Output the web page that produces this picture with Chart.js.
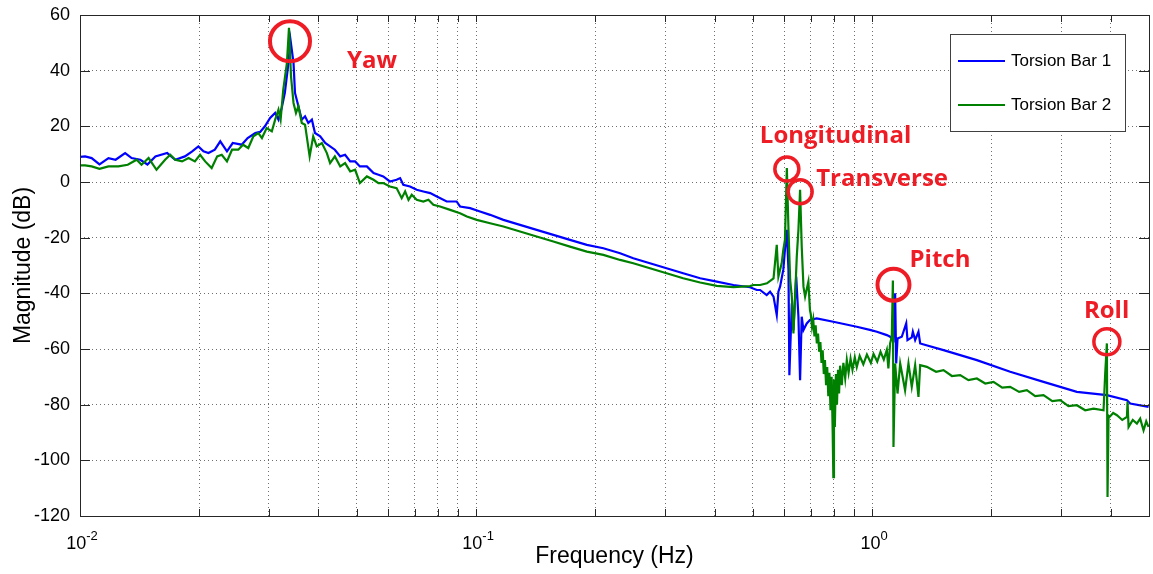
<!DOCTYPE html>
<html>
<head>
<meta charset="utf-8">
<script src="https://cdn.jsdelivr.net/npm/chart.js@4.4.0/dist/chart.umd.min.js"></script>
<style>
    html, body { margin: 0; padding: 0; background: #fff; }
    #wrap { width: 1153px; height: 574px; }
</style>
</head>
<body>
<div id="wrap"><canvas id="magnitudeChart" width="1153" height="574"></canvas></div>
<script>
// Torsion Bar 1 (blue) - frequency (Hz) and magnitude (dB)
const freqTB1 = [
    0.0100, 0.0103, 0.0107, 0.0112, 0.0118, 0.0123, 0.0130, 0.0135, 0.0142, 0.0148,
    0.0155, 0.0166, 0.0174, 0.0184, 0.0192, 0.0199, 0.0205, 0.0211, 0.0219, 0.0226,
    0.0235, 0.0243, 0.0256, 0.0265, 0.0277, 0.0285, 0.0293, 0.0302, 0.0311, 0.0317,
    0.0323, 0.0329, 0.0336, 0.0340, 0.0346, 0.0349, 0.0356, 0.0363, 0.0370, 0.0377,
    0.0385, 0.0392, 0.0404, 0.0416, 0.0428, 0.0440, 0.0454, 0.0467, 0.0481, 0.0495,
    0.0509, 0.0530, 0.0551, 0.0567, 0.0583, 0.0606, 0.0630, 0.0643, 0.0655, 0.0681,
    0.0708, 0.0736, 0.0766, 0.0796, 0.0843, 0.0893, 0.0911, 0.0966, 0.1023, 0.1085,
    0.1172, 0.1291, 0.1422, 0.1567, 0.1726, 0.1904, 0.2096, 0.2310, 0.2494, 0.2747,
    0.3026, 0.3333, 0.3679, 0.4052, 0.4464, 0.4917, 0.5115, 0.5212, 0.5416, 0.5524,
    0.5636, 0.5743, 0.5798, 0.5855, 0.5966, 0.6023, 0.6090, 0.6148, 0.6180, 0.6268,
    0.6327, 0.6430, 0.6514, 0.6577, 0.6640, 0.6708, 0.6837, 0.6966, 0.7244, 0.7980,
    0.9143, 0.9925, 1.028, 1.089, 1.110, 1.132, 1.143, 1.150, 1.159, 1.188,
    1.219, 1.228, 1.259, 1.267, 1.284, 1.309, 1.322, 1.514, 1.838, 2.231,
    2.708, 3.287, 3.914, 4.398, 4.482, 4.987
];
const magTB1 = [
    9.0, 9.2, 8.6, 6.3, 8.6, 8.0, 10.4, 8.6, 8.0, 6.3,
    9.2, 10.4, 8.0, 9.2, 11.0, 12.8, 11.0, 10.4, 11.6, 14.6,
    11.0, 14.0, 13.4, 15.8, 17.6, 18.0, 20.0, 23.0, 24.8, 22.4,
    26.6, 32.0, 42.8, 51.0, 42.8, 32.0, 27.2, 22.4, 23.6, 21.2,
    22.4, 17.6, 16.4, 14.0, 12.8, 11.6, 9.2, 9.8, 7.4, 7.4,
    5.6, 5.6, 3.2, 2.6, 2.0, 0.2, 0.8, 1.4, -1.0, -1.6,
    -2.8, -3.4, -4.0, -5.2, -7.0, -7.0, -8.8, -9.4, -10.6, -11.8,
    -13.6, -15.4, -17.2, -19.0, -20.8, -22.6, -23.8, -25.6, -27.4, -29.2,
    -31.0, -32.8, -34.6, -35.8, -37.0, -37.8, -38.8, -38.8, -40.6, -39.4,
    -41.2, -47.8, -39.4, -37.6, -31.5, -24.4, -17.2, -31.6, -69.4, -43.6,
    -53.2, -34.0, -48.4, -71.2, -48.4, -53.2, -50.8, -49.6, -49.0, -50.2,
    -52.0, -53.2, -53.8, -55.0, -55.6, -56.8, -40.0, -65.2, -56.2, -55.6,
    -50.8, -56.8, -55.8, -53.8, -56.8, -53.8, -58.0, -60.4, -64.0, -68.2,
    -71.8, -75.4, -76.6, -78.4, -79.6, -80.8
];

// Torsion Bar 2 (green)
const freqTB2 = [
    0.0100, 0.0103, 0.0107, 0.0112, 0.0118, 0.0125, 0.0132, 0.0139, 0.0143, 0.0149,
    0.0156, 0.0164, 0.0169, 0.0174, 0.0181, 0.0188, 0.0195, 0.0201, 0.0207, 0.0215,
    0.0222, 0.0228, 0.0235, 0.0242, 0.0251, 0.0258, 0.0266, 0.0274, 0.0282, 0.0288,
    0.0296, 0.0305, 0.0311, 0.0317, 0.0321, 0.0326, 0.0333, 0.0337, 0.0341, 0.0346,
    0.0351, 0.0356, 0.0363, 0.0370, 0.0380, 0.0388, 0.0396, 0.0408, 0.0420, 0.0428,
    0.0440, 0.0454, 0.0467, 0.0481, 0.0495, 0.0509, 0.0530, 0.0551, 0.0567, 0.0583,
    0.0606, 0.0630, 0.0649, 0.0662, 0.0675, 0.0688, 0.0708, 0.0736, 0.0758, 0.0780,
    0.0811, 0.0860, 0.0911, 0.0948, 0.1004, 0.1085, 0.1172, 0.1291, 0.1422, 0.1567,
    0.1726, 0.1904, 0.2096, 0.2310, 0.2494, 0.2747, 0.3026, 0.3333, 0.3679, 0.4052,
    0.4464, 0.4917, 0.5014, 0.5212, 0.5425, 0.5636, 0.5743, 0.5798, 0.5910, 0.5966,
    0.6023, 0.6090, 0.6148, 0.6209, 0.6268, 0.6327, 0.6390, 0.6452, 0.6514, 0.6577,
    0.6640, 0.6708, 0.6772, 0.6902, 0.6966, 0.7000, 0.7050, 0.7100, 0.7150, 0.7200,
    0.7250, 0.7300, 0.7350, 0.7400, 0.7450, 0.7500, 0.7550, 0.7600, 0.7650, 0.7700,
    0.7750, 0.7800, 0.7850, 0.7900, 0.7950, 0.7980, 0.8010, 0.8050, 0.8100, 0.8150,
    0.8200, 0.8250, 0.8300, 0.8380, 0.8460, 0.8550, 0.8630, 0.8720, 0.8820, 0.8920,
    0.9040, 0.9143, 0.9300, 0.9500, 0.9700, 0.9925, 1.008, 1.030, 1.050, 1.070,
    1.089, 1.099, 1.110, 1.121, 1.128, 1.132, 1.143, 1.159, 1.177, 1.211,
    1.235, 1.259, 1.284, 1.309, 1.322, 1.374, 1.450, 1.514, 1.590, 1.668,
    1.750, 1.838, 1.930, 2.025, 2.130, 2.231, 2.350, 2.458, 2.580, 2.708,
    2.850, 2.984, 3.130, 3.287, 3.450, 3.622, 3.839, 3.876, 3.914, 3.929,
    3.952, 3.975, 4.060, 4.150, 4.280, 4.398, 4.414, 4.440, 4.550, 4.660,
    4.750, 4.844, 4.920, 4.987
];
const magTB2 = [
    6.0, 6.0, 5.6, 4.7, 5.6, 5.6, 6.2, 8.0, 6.2, 8.6,
    4.4, 8.0, 9.8, 8.0, 7.4, 8.6, 7.4, 9.8, 7.4, 5.0,
    9.2, 9.8, 7.4, 11.6, 11.6, 13.4, 12.2, 16.4, 17.6, 15.8,
    19.4, 18.2, 22.4, 26.0, 22.4, 33.2, 42.8, 55.4, 38.0, 28.4,
    24.8, 27.2, 21.2, 20.6, 9.2, 16.4, 12.8, 14.0, 10.4, 6.8,
    9.2, 5.6, 6.8, 3.8, 4.4, -0.4, 2.0, 0.8, -0.4, -0.4,
    -1.6, -2.2, -5.8, -3.4, -6.4, -4.6, -6.4, -7.0, -6.4, -8.2,
    -8.8, -10.0, -11.2, -12.4, -13.6, -14.8, -16.0, -17.8, -19.6, -21.4,
    -23.2, -25.0, -26.2, -28.0, -29.2, -31.0, -32.8, -34.6, -36.1, -37.3,
    -37.8, -37.4, -37.0, -37.0, -36.4, -34.6, -22.6, -34.0, -29.2, -24.4,
    -20.8, 5.0, -17.2, -35.2, -41.2, -54.4, -41.2, -26.8, -17.2, -2.8,
    -23.2, -37.6, -41.2, -35.8, -46.0, -47.5, -52.0, -49.5, -55.5, -51.5,
    -58.0, -54.5, -61.0, -57.5, -65.0, -60.5, -69.0, -64.0, -73.0, -66.5,
    -77.0, -68.5, -82.0, -70.0, -90.0, -106.0, -71.0, -88.0, -69.0, -80.0,
    -67.5, -76.0, -66.0, -73.0, -65.0, -70.5, -64.0, -68.5, -63.5, -67.5,
    -63.0, -66.5, -62.5, -65.5, -62.0, -65.0, -61.8, -64.5, -61.0, -63.8,
    -60.3, -67.0, -58.0, -55.6, -35.4, -95.2, -65.2, -76.0, -65.2, -74.8,
    -65.2, -73.6, -65.8, -77.2, -65.8, -66.4, -68.2, -67.6, -69.7, -69.4,
    -71.2, -70.6, -72.4, -71.8, -73.9, -73.6, -75.4, -74.8, -76.9, -76.6,
    -78.7, -78.4, -80.5, -80.2, -82.0, -81.4, -82.0, -68.8, -58.0, -113.2,
    -84.0, -84.4, -83.0, -83.8, -85.5, -84.4, -79.0, -88.0, -85.5, -86.8,
    -85.0, -89.2, -86.0, -88.0
];

// Axis ticks
const xTickValues = [0.01, 0.02, 0.03, 0.04, 0.05, 0.06, 0.07, 0.08, 0.09,
                     0.1, 0.2, 0.3, 0.4, 0.5, 0.6, 0.7, 0.8, 0.9, 1, 2, 3, 4];
const xDecades = [0.01, 0.1, 1];
const xDecadeExponents = ['-2', '-1', '0'];
const yTickValues = [-120, -100, -80, -60, -40, -20, 0, 20, 40, 60];

// Marked modes
const modeNames = ['Yaw', 'Longitudinal', 'Transverse', 'Pitch', 'Roll'];
const modeFreqs = [0.0339, 0.609, 0.658, 1.132, 3.914];
const modeMags = [50.6, 4.7, -3.5, -36.9, -57.4];

const FONT = '"Liberation Sans", Arial, sans-serif';
const NOTE_RED = '#ee1c25';
// circle radius + label offset (px) for each marked mode
const noteStyle = [
    { r: 20, dx: 57, dy: 20 },
    { r: 12, dx: -27, dy: -33 },
    { r: 12, dx: 16, dy: -13 },
    { r: 16, dx: 16, dy: -25 },
    { r: 13, dx: -23, dy: -31 }
];

function toPoints(freqs, mags) {
    return freqs.map((f, i) => ({ x: f, y: mags[i] }));
}

// Box, inward ticks, 10^n labels, legend and mode annotations
const figureDecor = {
    id: 'figureDecor',
    afterDraw(chart) {
        const { ctx, chartArea: a, scales: { x, y } } = chart;
        ctx.save();

        ctx.strokeStyle = '#262626';
        ctx.lineWidth = 1;
        ctx.beginPath();
        xTickValues.forEach(v => {
            const px = Math.round(x.getPixelForValue(v)) + 0.5;
            ctx.moveTo(px, a.bottom); ctx.lineTo(px, a.bottom - 7);
            ctx.moveTo(px, a.top); ctx.lineTo(px, a.top + 7);
        });
        yTickValues.forEach(v => {
            const py = Math.round(y.getPixelForValue(v)) + 0.5;
            ctx.moveTo(a.left, py); ctx.lineTo(a.left + 10, py);
            ctx.moveTo(a.right, py); ctx.lineTo(a.right - 10, py);
        });
        ctx.stroke();
        ctx.strokeRect(Math.round(a.left) + 0.5, Math.round(a.top) + 0.5,
                       Math.round(a.width), Math.round(a.height));

        // x tick labels as 10 with superscript exponent
        ctx.fillStyle = '#000';
        ctx.textAlign = 'left';
        ctx.textBaseline = 'alphabetic';
        xDecades.forEach((v, i) => {
            const px = x.getPixelForValue(v);
            ctx.font = '18px ' + FONT;
            const wBase = ctx.measureText('10').width;
            ctx.font = '13px ' + FONT;
            const wExp = ctx.measureText(xDecadeExponents[i]).width;
            const start = px - (wBase + wExp) / 2 + 2;
            ctx.font = '18px ' + FONT;
            ctx.fillText('10', start, a.bottom + 33);
            ctx.font = '13px ' + FONT;
            ctx.fillText(xDecadeExponents[i], start + wBase, a.bottom + 24);
        });

        // legend
        const lg = { left: 950.5, top: 34.5, w: 175, h: 97 };
        ctx.fillStyle = '#fff';
        ctx.fillRect(lg.left, lg.top, lg.w, lg.h);
        ctx.strokeStyle = '#404040';
        ctx.lineWidth = 1;
        ctx.strokeRect(lg.left, lg.top, lg.w, lg.h);
        ctx.font = '17px ' + FONT;
        ctx.textBaseline = 'middle';
        chart.data.datasets.forEach((ds, i) => {
            const ly = 61 + i * 44;
            ctx.strokeStyle = ds.borderColor;
            ctx.lineWidth = 2;
            ctx.beginPath();
            ctx.moveTo(958, ly); ctx.lineTo(1005, ly);
            ctx.stroke();
            ctx.fillStyle = '#000';
            ctx.fillText(ds.label, 1011, ly);
        });

        // mode annotations
        modeNames.forEach((name, i) => {
            const cx = x.getPixelForValue(modeFreqs[i]);
            const cy = y.getPixelForValue(modeMags[i]);
            const s = noteStyle[i];
            ctx.strokeStyle = NOTE_RED;
            ctx.lineWidth = s.r > 15 ? 4 : 3.5;
            ctx.beginPath();
            ctx.arc(cx, cy, s.r, 0, Math.PI * 2);
            ctx.stroke();
            ctx.fillStyle = NOTE_RED;
            ctx.font = 'bold 24px "Open Sans", sans-serif';
            ctx.textBaseline = 'middle';
            ctx.fillText(name, cx + s.dx, cy + s.dy);
        });

        ctx.restore();
    }
};

Chart.defaults.font.family = FONT;

new Chart(document.getElementById('magnitudeChart'), {
    type: 'line',
    data: {
        datasets: [
            {
                label: 'Torsion Bar 1',
                data: toPoints(freqTB1, magTB1),
                borderColor: '#0000ff',
                borderWidth: 2.2,
                pointRadius: 0,
                tension: 0,
                order: 1
            },
            {
                label: 'Torsion Bar 2',
                data: toPoints(freqTB2, magTB2),
                borderColor: '#008000',
                borderWidth: 2.2,
                pointRadius: 0,
                tension: 0,
                order: 0
            }
        ]
    },
    options: {
        responsive: false,
        animation: false,
        devicePixelRatio: 1,
        layout: { padding: { top: 15, right: 4, left: 0, bottom: 0 } },
        plugins: {
            legend: { display: false },
            tooltip: { enabled: false }
        },
        scales: {
            x: {
                type: 'logarithmic',
                min: 0.01,
                max: 5,
                afterBuildTicks: s => { s.ticks = xTickValues.map(v => ({ value: v })); },
                afterFit: s => { s.height = 58; },
                ticks: { display: false },
                grid: { color: '#6f6f6f', drawTicks: false },
                border: { display: false, dash: [1, 3] },
                title: {
                    display: true,
                    text: 'Frequency (Hz)',
                    color: '#000',
                    font: { size: 23 },
                    padding: { top: 0, bottom: 4 }
                }
            },
            y: {
                min: -120,
                max: 60,
                afterBuildTicks: s => { s.ticks = yTickValues.map(v => ({ value: v })); },
                afterFit: s => {
                    s.width = 80;
                    s.paddingTop = 0;
                    s.paddingBottom = 0;
                },
                ticks: {
                    color: '#000',
                    font: { size: 18 },
                    padding: 10,
                    callback: v => String(v)
                },
                grid: { color: '#6f6f6f', drawTicks: false },
                border: { display: false, dash: [1, 3] },
                title: {
                    display: true,
                    text: 'Magnitude (dB)',
                    color: '#000',
                    font: { size: 23 },
                    padding: { top: 10, bottom: 0 }
                }
            }
        }
    },
    plugins: [figureDecor]
});
</script>
</body>
</html>
